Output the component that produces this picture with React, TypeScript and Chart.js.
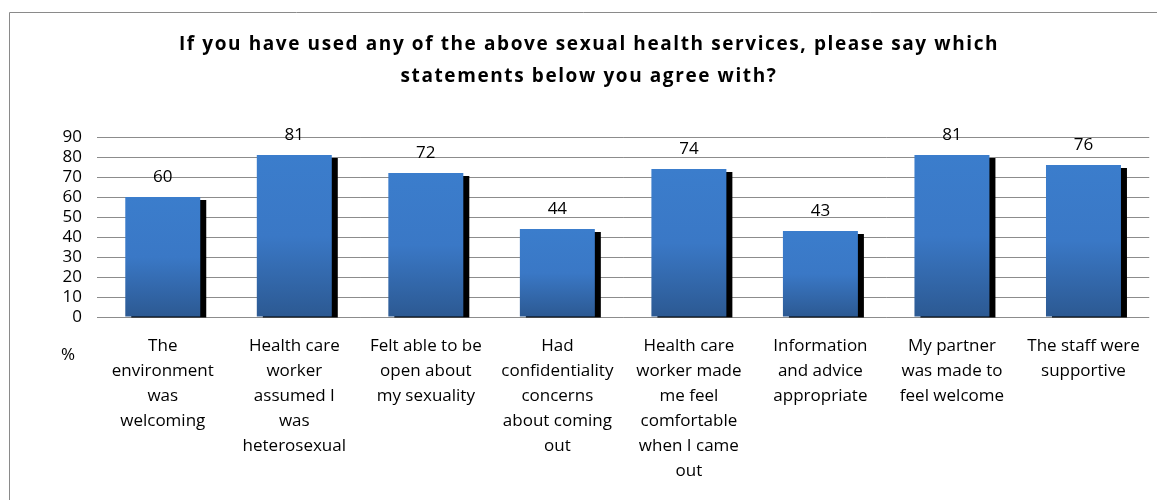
import React, { useEffect, useRef } from "react";
import { Chart, registerables } from "chart.js";

Chart.register(...registerables);

const titleLines = [
  "If you have used any of the above sexual health services, please say which",
  "statements below you agree with?",
];

const categories: string[][] = [
  ["The", "environment", "was", "welcoming"],
  ["Health care", "worker", "assumed I", "was", "heterosexual"],
  ["Felt able to be", "open about", "my sexuality"],
  ["Had", "confidentiality", "concerns", "about coming", "out"],
  ["Health care", "worker made", "me feel", "comfortable", "when I came", "out"],
  ["Information", "and advice", "appropriate"],
  ["My partner", "was made to", "feel welcome"],
  ["The staff were", "supportive"],
];

const values = [60, 81, 72, 44, 74, 43, 81, 76];

const yTicks = [0, 10, 20, 30, 40, 50, 60, 70, 80, 90];

const FONT = "'Open Sans', 'DejaVu Sans', sans-serif";

const decorPlugin = {
  id: "decor",
  beforeDraw(chart: any) {
    const ctx = chart.ctx;
    ctx.save();
    ctx.fillStyle = "#ffffff";
    ctx.fillRect(0, 0, chart.width, chart.height);
    ctx.strokeStyle = "#8a8a8a";
    ctx.lineWidth = 1;
    ctx.beginPath();
    ctx.moveTo(9.5, chart.height);
    ctx.lineTo(9.5, 12.5);
    ctx.lineTo(chart.width, 12.5);
    ctx.stroke();
    // title
    ctx.fillStyle = "#000000";
    ctx.font = `bold 19px ${FONT}`;
    (ctx as any).letterSpacing = "1.6px";
    ctx.textAlign = "center";
    ctx.textBaseline = "middle";
    ctx.fillText(titleLines[0], 589, 45);
    ctx.fillText(titleLines[1], 589, 77);
    (ctx as any).letterSpacing = "0px";
    // % label
    ctx.font = `17px ${FONT}`;
    ctx.fillText("%", 68, 355);
    ctx.restore();
  },
  beforeDatasetsDraw(chart: any) {
    const ctx = chart.ctx;
    const meta = chart.getDatasetMeta(0);
    ctx.save();
    ctx.fillStyle = "#000000";
    meta.data.forEach((bar: any) => {
      const w = bar.width;
      const left = bar.x - w / 2 + 6;
      const top = bar.y + 3;
      ctx.fillRect(left, top, w, bar.base - top + 1);
    });
    ctx.restore();
  },
  afterDatasetsDraw(chart: any) {
    const ctx = chart.ctx;
    const meta = chart.getDatasetMeta(0);
    ctx.save();
    ctx.fillStyle = "#000000";
    ctx.font = `17px ${FONT}`;
    ctx.textAlign = "center";
    ctx.textBaseline = "middle";
    meta.data.forEach((bar: any, i: number) => {
      ctx.fillText(String(values[i]), bar.x, bar.y - 20);
    });
    ctx.restore();
  },
};

export default function App() {
  const ref = useRef<HTMLCanvasElement>(null);
  useEffect(() => {
    if (!ref.current) return;
    const chart = new Chart(ref.current, {
      type: "bar",
      data: {
        labels: categories,
        datasets: [
          {
            data: values,
            backgroundColor: (c: any) => {
              const ch = c.chart;
              const ys = ch.scales && ch.scales.y;
              if (!ys || !ch.chartArea) return "#3a78c5";
              const v = values[c.dataIndex] ?? 0;
              const top = ys.getPixelForValue(v);
              const bottom = ys.getPixelForValue(0);
              const g = ch.ctx.createLinearGradient(0, top, 0, bottom);
              g.addColorStop(0, "#3b7dcc");
              g.addColorStop(0.5, "#3a78c6");
              g.addColorStop(1, "#2c5992");
              return g;
            },
            borderWidth: 0,
            barPercentage: 0.57,
            categoryPercentage: 1,
          },
        ],
      },
      options: {
        responsive: true,
        maintainAspectRatio: false,
        animation: false,
        layout: { padding: { top: 137, left: 0, right: 5, bottom: 0 } },
        plugins: {
          legend: { display: false },
          title: { display: false },
          tooltip: { enabled: false },
        },
        scales: {
          x: {
            grid: { display: false, drawTicks: false },
            border: { display: false },
            ticks: {
              color: "#000000",
              font: { family: FONT, size: 17, lineHeight: 1.47 },
              padding: 17,
              maxRotation: 0,
              autoSkip: false,
            },
            afterFit: (axis: any) => {
              axis.height = 183;
            },
          },
          y: {
            min: 0,
            max: 90,
            afterBuildTicks: (axis: any) => {
              axis.ticks = yTicks.map((v) => ({ value: v }));
            },
            grid: { color: "#8c8c8c", drawTicks: false, lineWidth: 1 },
            border: { display: false },
            ticks: {
              color: "#000000",
              font: { family: FONT, size: 17 },
              padding: 15,
              autoSkip: false,
              stepSize: 10,
            },
            afterFit: (axis: any) => {
              axis.width = 97;
            },
          },
        },
      },
      plugins: [decorPlugin],
    });
    return () => chart.destroy();
  }, []);
  return (
    <div style={{ position: "absolute", left: 0, top: 0, width: 1157, height: 500 }}>
      <canvas ref={ref} />
    </div>
  );
}
